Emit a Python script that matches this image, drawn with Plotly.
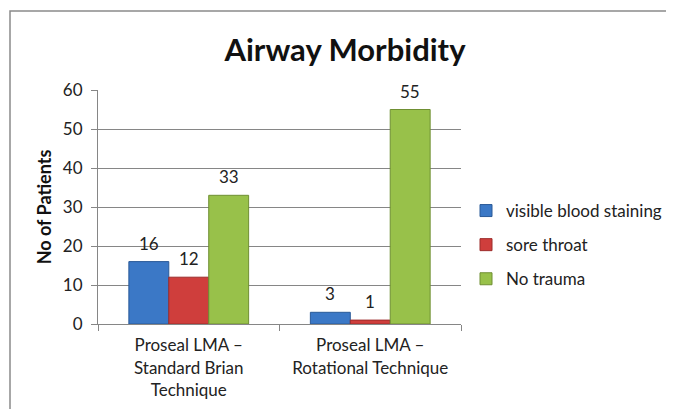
import plotly.graph_objects as go

categories = ["Proseal LMA –<br>Standard Brian<br>Technique", "Proseal LMA –<br>Rotational Technique"]
series_names = ["visible blood staining", "sore throat", "No trauma"]
blood_staining = [16, 3]
sore_throat = [12, 1]
no_trauma = [33, 55]
y_ticks = [0, 10, 20, 30, 40, 50, 60]

values = [blood_staining, sore_throat, no_trauma]
colors = ["#3b78c6", "#cf3e3c", "#98c14a"]
edges = ["#2a5a98", "#9c2c2a", "#6f8f33"]

FONT = "Lato, 'Open Sans', sans-serif"
BARGAP = 0.34

# page body adds an 8px offset; figure coordinates = reference - 8
OFF = 8
W, H = 674 - OFF, 409 - OFF
L, R, T, B = 98 - OFF, 674 - 461, 90 - OFF, 409 - 324
pw, ph = W - L - R, H - T - B

def px(x):
    return (x - OFF - L) / pw

def py(y):
    return (H - B - (y - OFF)) / ph

n_series = len(series_names)
bar_px = pw / len(categories) * (1 - BARGAP) / n_series

fig = go.Figure()
annotations = []
for i, (name, vals) in enumerate(zip(series_names, values)):
    fig.add_trace(go.Bar(
        name=name, x=categories, y=vals,
        marker=dict(color=colors[i], line=dict(color=edges[i], width=1)),
        legendgroup=name,
    ))
    for cat, v in zip(categories, vals):
        annotations.append(dict(
            x=cat, y=v, xref="x", yref="y", text=str(v), showarrow=False,
            xanchor="center", yanchor="bottom",
            xshift=(i - (n_series - 1) / 2) * bar_px, yshift=6,
            font=dict(size=17, color="#222", family=FONT),
        ))

fig.update_layout(
    width=W, height=H,
    margin=dict(l=L, r=R, t=T, b=B, autoexpand=False),
    paper_bgcolor="white", plot_bgcolor="white",
    barmode="group", bargap=BARGAP, bargroupgap=0,
    font=dict(family=FONT, size=17, color="#222"),
    title=dict(text="<b>Airway Morbidity</b>", x=(345 - OFF) / W, xanchor="center",
               y=1 - (50 - OFF) / H, yanchor="middle", yref="container", xref="container",
               font=dict(size=31, color="#111", family=FONT)),
    legend=dict(x=px(466), y=py(193), xanchor="left", yanchor="top",
                font=dict(size=17, color="#222"), tracegroupgap=9,
                itemwidth=30, bgcolor="rgba(0,0,0,0)"),
    xaxis=dict(showline=True, linecolor="#868686", linewidth=1,
               ticks="outside", tickson="boundaries", ticklen=6, tickcolor="#868686",
               ticklabelstandoff=6,
               tickfont=dict(size=17, color="#222"), showgrid=False),
    yaxis=dict(range=[0, 60], tickvals=y_ticks, showline=True, linecolor="#868686",
               ticks="outside", ticklen=6, tickcolor="#868686",
               ticklabelstandoff=5,
               gridcolor="#868686", gridwidth=1, zeroline=False,
               tickfont=dict(size=17, color="#222"),
               title=dict(text="<b>No of Patients</b>", standoff=6,
                          font=dict(size=18, color="#111"))),
    annotations=annotations,
    shapes=[dict(type="path", xref="paper", yref="paper",
                 path=f"M {px(10)} {py(409)} L {px(10)} {py(11)} L {px(674)} {py(11)}",
                 line=dict(color="#8a8a8a", width=1.5))],
)

fig.write_html("out.html")
